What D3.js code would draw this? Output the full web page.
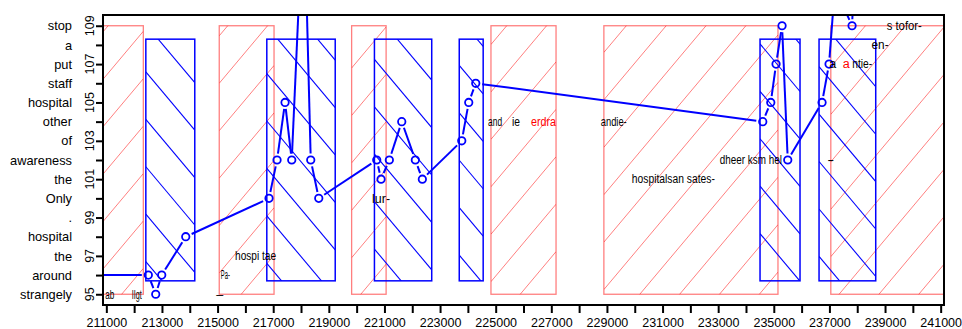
<!DOCTYPE html>
<html><head><meta charset="utf-8">
<script src="https://cdn.jsdelivr.net/npm/d3@7"></script>
<style>
body{margin:0;background:#fff}
svg{display:block}
text{font-family:"Liberation Sans",Arial,Helvetica,sans-serif}
</style>
</head><body>
<svg id="chart" width="962" height="329"></svg>
<script>
// ---------------- data ----------------
const yTickValues = [95,96,97,98,99,100,101,102,103,104,105,106,107,108,109];
const yWordLabels = ["strangely","around","the","hospital",".","Only","the","awareness","of","other","hospital","staff","put","a","stop"];
const xTickValues = d3.range(211000, 241001, 1000);
const xTickLabels = ["211000","213000","215000","217000","219000","221000","223000","225000","227000","229000","231000","233000","235000","237000","239000","241000"];

const redStart = [210700, 215060, 219820, 224830, 228890, 237050];
const redEnd   = [212330, 217030, 221060, 227170, 235150, 242500];
const redLow = 95, redHigh = 109;

const blueStart = [212420, 216770, 220640, 223690, 234505, 236627];
const blueEnd   = [214180, 219230, 222700, 224550, 235943, 238665];
const blueLow = 95.7, blueHigh = 108.3;

const lineX = [210500, 212510, 212776, 212992, 213855, 216850, 217138, 217426, 217667, 218100, 218350, 218638,
               220723, 220878, 221176, 221622, 222111, 222363, 223780, 224031, 224283,
               234603, 234891, 235081, 235297, 235502, 236735, 236987, 237195, 237814, 237900];
const lineY = [96, 96, 95, 96, 98, 100, 102, 105, 102, 116, 102, 100,
               102, 101, 102, 104, 102, 101, 103, 105, 106,
               104, 105, 107, 109, 102, 105, 107, 111, 109, 112];
const showPoint = lineX.map((x,i)=> lineY[i] <= 109.5 && x > 210900);

const noteText  = ["ab", "IIgt", "\u2014", "Pa-", "hospi tae", "lur-", "and", "ie", "erdra", "andie-",
                   "hospitalsan sates-", "dheer ksm hel", "-", "a", "a", "ntie-", "en-", "s tofor-"];
const noteX     = [211122, 212093, 215078, 215279, 216365, 220878, 224977, 225733, 226721, 229245,
                   231389, 234175, 237048, 237120, 237610, 238180, 238821, 239691];
const noteY     = [95, 95, 95, 96, 97, 100, 104, 104, 104, 104, 101, 102, 102, 107, 107, 107, 108, 109];
const noteRed   = [false,false,false,false,false,false,false,false,true,false,false,false,false,false,true,false,false,false];

// ---------------- drawing ----------------
const svg = d3.select("#chart");
const L = 103, R = 944, T = 15, B = 305;
const x = d3.scaleLinear().domain([210880, 241120]).range([L, R]);
const y = d3.scaleLinear().domain([94.44, 109.56]).range([B, T]);

const defs = svg.append("defs");
defs.append("clipPath").attr("id","plotclip").append("rect")
  .attr("x",L).attr("y",T).attr("width",R-L).attr("height",B-T);

const plot = svg.append("g").attr("clip-path","url(#plotclip)");

const slope = 1.19, spacing = 47.43;
function hatch(g, id, x0, x1, y0, y1, dir, ax, ay, color, w) {
  const cp = defs.append("clipPath").attr("id", id);
  cp.append("rect").attr("x",x0).attr("y",y0).attr("width",x1-x0).attr("height",y1-y0);
  const hg = g.append("g").attr("clip-path","url(#"+id+")");
  const yAt = (xx,k)=> ay + dir*slope*(xx-ax) + k*spacing;
  for (let k=-80;k<=80;k++){
    const ya = yAt(x0,k), yb = yAt(x1,k);
    if (Math.max(ya,yb) < y0-1 || Math.min(ya,yb) > y1+1) continue;
    hg.append("line").attr("x1",x0).attr("y1",ya).attr("x2",x1).attr("y2",yb)
      .attr("stroke",color).attr("stroke-width",w);
  }
}

const redCol = "rgba(255,0,0,0.5)";
redStart.forEach((s,i)=>{
  const x0 = x(s), x1 = x(redEnd[i]), y0 = y(redHigh), y1 = y(redLow);
  hatch(plot, "rh"+i, x0, x1, y0, y1, -1, 143, 31.7, redCol, 1);
  plot.append("rect").attr("x",x0).attr("y",y0).attr("width",x1-x0).attr("height",y1-y0)
    .attr("fill","none").attr("stroke",redCol).attr("stroke-width",1.3);
});
blueStart.forEach((s,i)=>{
  const x0 = x(s), x1 = x(blueEnd[i]), y0 = y(blueHigh), y1 = y(blueLow);
  hatch(plot, "bh"+i, x0, x1, y0, y1, 1, 158.3, 39.3, "#0000ff", 1.1);
  plot.append("rect").attr("x",x0).attr("y",y0).attr("width",x1-x0).attr("height",y1-y0)
    .attr("fill","none").attr("stroke","#0000ff").attr("stroke-width",1.5);
});

// line type "b"
const pts = lineX.map((v,i)=>[x(v), y(lineY[i])]);
const gap = 6.5;
for (let i=0;i<pts.length-1;i++){
  const [ax,ay] = pts[i], [bx,by] = pts[i+1];
  const dx=bx-ax, dy=by-ay, len=Math.hypot(dx,dy);
  if (len <= 2*gap) continue;
  const ux=dx/len, uy=dy/len;
  plot.append("line")
    .attr("x1",ax+ux*gap).attr("y1",ay+uy*gap).attr("x2",bx-ux*gap).attr("y2",by-uy*gap)
    .attr("stroke","#0000ff").attr("stroke-width",2);
}
plot.selectAll("circle.pt").data(pts.filter((p,i)=>showPoint[i])).enter().append("circle")
  .attr("class","pt").attr("cx",d=>d[0]).attr("cy",d=>d[1]).attr("r",3.7)
  .attr("fill","none").attr("stroke","#0000ff").attr("stroke-width",1.8);

// annotations
const noteFit = [9, 10, 7, 9, 41, 18, 14, 8, 25, 26, 83, 62, 7, 7, 7, 20, 17, 35];
noteText.forEach((t,i)=>{
  plot.append("text").attr("x", x(noteX[i])).attr("y", y(noteY[i]))
    .attr("dy","0.36em").attr("text-anchor","middle")
    .attr("font-size", 12)
    .attr("textLength", noteFit[i]).attr("lengthAdjust","spacingAndGlyphs")
    .attr("fill", noteRed[i] ? "#ff0000" : "#000")
    .text(t);
});

// axes
const gx = svg.append("g").attr("transform",`translate(0,${B})`)
  .call(d3.axisBottom(x).tickValues(xTickValues).tickSize(8).tickPadding(5)
        .tickFormat(d=> xTickLabels.includes(String(d)) ? String(d) : ""));
gx.select(".domain").remove();
gx.selectAll("line").attr("stroke","#000").attr("stroke-width",2);
gx.selectAll("text").attr("font-size",12.5).attr("fill","#000")
  .style("font-family",'"Liberation Sans",Arial,sans-serif');

const gy = svg.append("g").attr("transform",`translate(${L},0)`)
  .call(d3.axisLeft(y).tickValues(yTickValues).tickSize(7).tickFormat(""));
gy.select(".domain").remove();
gy.selectAll("line").attr("stroke","#000").attr("stroke-width",2);

yTickValues.forEach((v,i)=>{
  if (v % 2 === 1) {
    svg.append("text").attr("transform",`translate(94,${y(v)}) rotate(-90)`)
      .attr("text-anchor","middle").attr("font-size",12.5).attr("fill","#000").text(String(v));
  }
  svg.append("text").attr("x",72).attr("y",y(v)).attr("dy","0.36em")
    .attr("text-anchor","end").attr("font-size",12.8).attr("fill","#000").text(yWordLabels[i]);
});

svg.append("rect").attr("x",L).attr("y",T).attr("width",R-L).attr("height",B-T)
  .attr("fill","none").attr("stroke","#000").attr("stroke-width",2);
</script>
</body></html>
